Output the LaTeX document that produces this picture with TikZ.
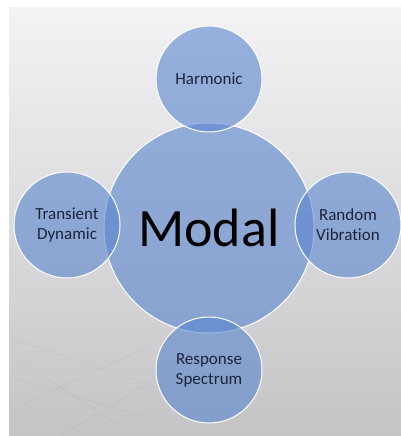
\documentclass[tikz,border=0pt]{standalone}
\usepackage{fontspec}
\setmainfont[Ligatures=NoCommon]{Carlito}
\usetikzlibrary{positioning}
\definecolor{bubblefill}{RGB}{90,133,207}
\definecolor{labeltext}{RGB}{28,36,58}
\definecolor{backtop}{RGB}{243,243,245}
\definecolor{backmid}{RGB}{234,234,236}
\definecolor{backbot}{RGB}{196,196,198}
\tikzstyle{bubble}=[circle,draw=white,line width=1pt,fill=bubblefill,fill opacity=0.6,text opacity=1,
                    text=labeltext,inner sep=0pt,align=center,minimum size=106pt,
                    font=\fontsize{17}{20}\selectfont]
\tikzstyle{hub}=[bubble,minimum size=210pt,text=black,font=\fontsize{54}{60}\selectfont]
\tikzstyle{floor}=[draw=black,opacity=0.03,line width=0.8pt]

\begin{document}
\begin{tikzpicture}[x=1pt,y=1pt]
  \useasboundingbox (0,0) rectangle (401,436);
  \fill[white] (0,0) rectangle (401,436);
  \shade[top color=backtop,middle color=backmid,bottom color=backbot] (9,0) rectangle (401,428);

  % faint floor grid
  \draw[floor] (9,98) -- (160,48);
  \draw[floor] (9,60) -- (140,20);
  \draw[floor] (20,30) -- (150,90);
  \draw[floor] (9,82) -- (120,10);
  \draw[floor] (60,0) -- (160,60);

  \node[hub] (modal) at (209,208) {Modal};

  \foreach \pos / \name / \txt in {{(209,357)/harmonic/Harmonic},
                                   {(67,211)/transient/{Transient\\Dynamic}},
                                   {(348,211)/random/{Random\\Vibration}},
                                   {(209,66)/spectrum/{Response\\Spectrum}}}
    \node[bubble] (\name) at \pos {\txt};
\end{tikzpicture}
\end{document}
